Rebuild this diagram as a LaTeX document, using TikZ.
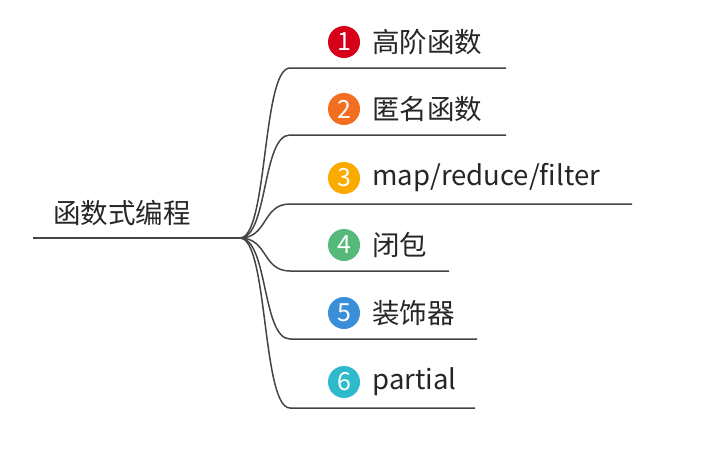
\documentclass[tikz,border=0pt]{standalone}
\usepackage{fontspec}
\setmainfont{Noto Sans CJK SC}
\usetikzlibrary{positioning}
\definecolor{branch}{HTML}{444444}
\definecolor{cA}{HTML}{D7001B}
\definecolor{cB}{HTML}{F36E21}
\definecolor{cC}{HTML}{FBAA00}
\definecolor{cD}{HTML}{55B97A}
\definecolor{cE}{HTML}{3B8FD9}
\definecolor{cF}{HTML}{2DBBCB}
\tikzset{
    badge/.style={circle, fill=#1, text=white, minimum size=32pt, inner sep=0pt, font=\fontsize{25}{25}\selectfont},
    topic/.style={anchor=west, inner sep=0pt, text=black!85, font=\fontsize{27.5}{27.5}\selectfont},
    link/.style={draw=branch, line width=1.5pt},
}
\begin{document}
\begin{tikzpicture}[x=1pt, y=-1pt]
\useasboundingbox (0,0) rectangle (703,452);
\node (root) [topic] at (53,213) {函数式编程};
\coordinate (hub) at (240,238);
\coordinate (rootl) at (33,238);
\draw[link] (rootl) -- (hub);
\foreach \n/\c/\y/\e/\t in {1/cA/68/506/高阶函数, 2/cB/135/506/匿名函数,
    3/cC/204/632/map\slash reduce\slash filter, 4/cD/271/449/闭包,
    5/cE/339/477/装饰器, 6/cF/408/475/partial} {
    \node (b\n) [badge=\c] at (344,\y-26) {\n};
    \node (t\n) [topic, right=12pt of b\n] {\t};
    \coordinate (s\n) at (290,\y);
    \coordinate (e\n) at (\e,\y);
    \draw[link] (hub) .. controls (268,238) and (262,\y) .. (s\n) -- (e\n);
}
\end{tikzpicture}
\end{document}
